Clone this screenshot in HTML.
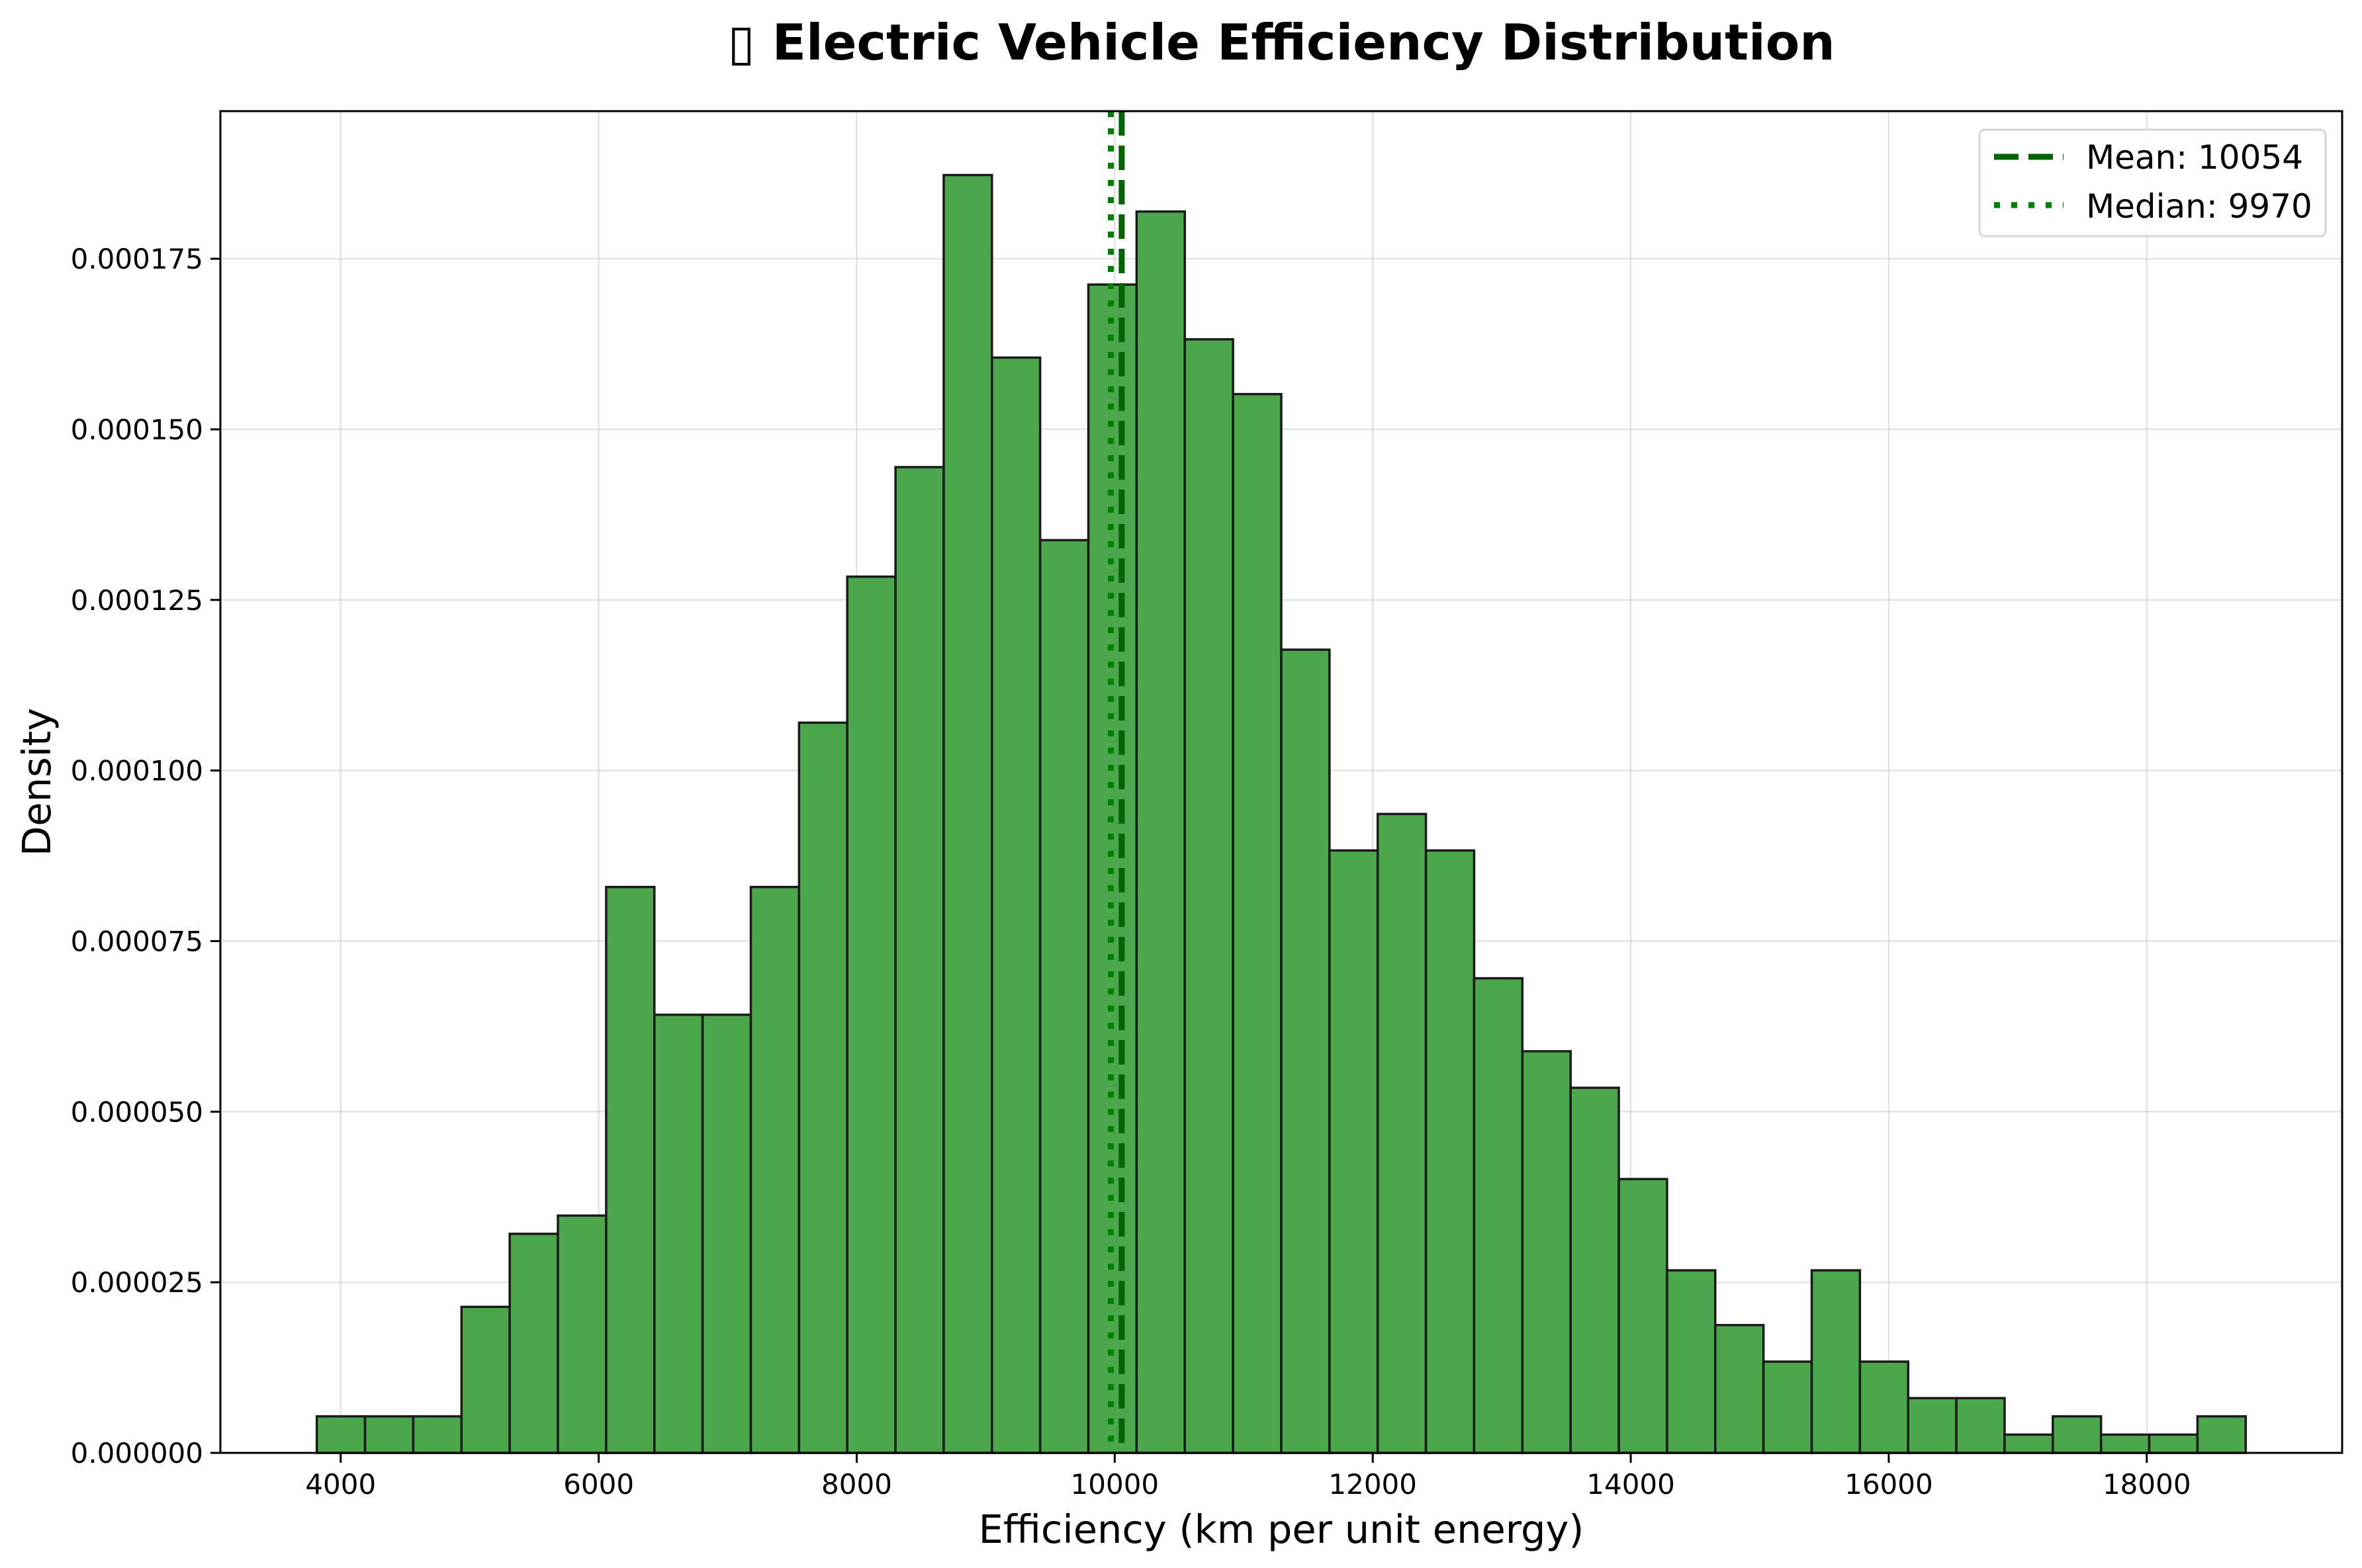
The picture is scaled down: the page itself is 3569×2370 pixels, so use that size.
<!DOCTYPE html>
<html><head><meta charset="utf-8"><style>
html,body{margin:0;padding:0;background:#fff}
svg{display:block;font-family:"DejaVu Sans","Liberation Sans",sans-serif}
</style></head><body>
<svg id="chart" width="3569" height="2370" viewBox="0 0 3569 2370" xmlns="http://www.w3.org/2000/svg">
<rect width="3569" height="2370" fill="#fff"/>
<text x="1936" y="90" text-anchor="middle" font-size="75" font-weight="bold">▯ Electric Vehicle Efficiency Distribution</text>
<g id="grid"></g>
<g id="bars"></g>
<g id="vlines"></g>
<g id="axes"></g>
<text x="1936" y="2332" text-anchor="middle" font-size="59">Efficiency (km per unit energy)</text>
<text x="0" y="0" transform="translate(76,1182) rotate(-90)" text-anchor="middle" font-size="59">Density</text>
<g>
<rect x="2991" y="196" width="523" height="161" rx="8" fill="#fff" fill-opacity="0.8" stroke="#d6d6d6" stroke-width="3"/>
<line x1="3013" y1="237" x2="3118" y2="237" stroke="#006400" stroke-width="9" stroke-dasharray="37,15"/>
<text x="3152" y="255" font-size="50">Mean: 10054</text>
<line x1="3013" y1="310" x2="3118" y2="310" stroke="#008000" stroke-width="9" stroke-dasharray="9,17"/>
<text x="3152" y="329" font-size="50">Median: 9970</text>
</g>
</svg>
<script>
const binStart = 3815;
const binEnd = 18767;
const counts = [2,2,2,8,12,13,31,24,24,31,40,48,54,70,60,50,64,68,61,58,44,33,35,33,26,22,20,15,10,7,5,10,5,3,3,1,2,1,1,2];
const totalN = 1000;
const meanVal = 10054;
const medianVal = 9970;
const xTicks = [4000,6000,8000,10000,12000,14000,16000,18000];
const yTicks = [0,0.000025,0.00005,0.000075,0.0001,0.000125,0.00015,0.000175];
const yTickLabels = ["0.000000","0.000025","0.000050","0.000075","0.000100","0.000125","0.000150","0.000175"];

const L=333,R=3539,T=168,B=2196;
const NS="http://www.w3.org/2000/svg";
const bw=(binEnd-binStart)/counts.length;
const dens=counts.map(c=>c/(totalN*bw));
const span=binEnd-binStart;
const xmin=binStart-0.05*span,xmax=binEnd+0.05*span;
const ymax=Math.max(...dens)*1.05;
const sx=v=>L+(v-xmin)/(xmax-xmin)*(R-L);
const sy=v=>B-v/ymax*(B-T);
function mk(tag,attrs,parent){const e=document.createElementNS(NS,tag);for(const k in attrs)e.setAttribute(k,attrs[k]);parent.appendChild(e);return e;}
const grid=document.getElementById('grid'),bars=document.getElementById('bars'),vl=document.getElementById('vlines'),ax=document.getElementById('axes');
xTicks.forEach(t=>{const g=mk('line',{x1:sx(t),x2:sx(t),y1:T,y2:B,stroke:'#b0b0b0','stroke-opacity':0.35,'stroke-width':2.5},grid);

});
yTicks.forEach(t=>{const g=mk('line',{x1:L,x2:R,y1:sy(t),y2:sy(t),stroke:'#b0b0b0','stroke-opacity':0.35,'stroke-width':2.5},grid);

});
dens.forEach((d,i)=>{const x0=sx(binStart+i*bw),x1=sx(binStart+(i+1)*bw);
const r=mk('rect',{x:x0,y:sy(d),width:x1-x0,height:B-sy(d),fill:'#4ca64c',stroke:'#1a1a1a','stroke-width':3.5},bars);

});
const m=mk('line',{x1:sx(meanVal),x2:sx(meanVal),y1:T,y2:B,stroke:'#006400','stroke-width':9,'stroke-dasharray':'37,15'},vl);


const md=mk('line',{x1:sx(medianVal),x2:sx(medianVal),y1:T,y2:B,stroke:'#008000','stroke-width':9,'stroke-dasharray':'9,17'},vl);


const fr=mk('rect',{x:L,y:T,width:R-L,height:B-T,fill:'none',stroke:'#000','stroke-width':3},ax);


xTicks.forEach(t=>{const tk=mk('line',{x1:sx(t),x2:sx(t),y1:B,y2:B+15,stroke:'#000','stroke-width':3},ax);


const tx=mk('text',{x:sx(t),y:B+62,'text-anchor':'middle','font-size':42},ax);tx.textContent=t;

});
yTicks.forEach((t,i)=>{const tk=mk('line',{x1:L-15,x2:L,y1:sy(t),y2:sy(t),stroke:'#000','stroke-width':3},ax);


const tx=mk('text',{x:L-26,y:sy(t)+15,'text-anchor':'end','font-size':42},ax);tx.textContent=yTickLabels[i];

});
</script>
</body></html>
